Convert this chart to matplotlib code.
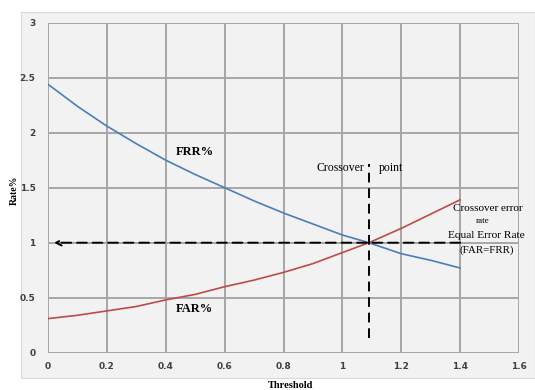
import matplotlib
matplotlib.use("Agg")
import matplotlib.pyplot as plt
from matplotlib.patches import Rectangle

threshold = [0.0, 0.1, 0.2, 0.3, 0.4, 0.5, 0.6, 0.7, 0.8, 0.9, 1.0, 1.09, 1.2, 1.3, 1.4]
frr = [2.44, 2.24, 2.06, 1.90, 1.75, 1.62, 1.50, 1.38, 1.27, 1.17, 1.07, 1.00, 0.90, 0.84, 0.77]
far = [0.31, 0.34, 0.38, 0.42, 0.48, 0.53, 0.60, 0.66, 0.73, 0.81, 0.91, 1.00, 1.13, 1.26, 1.39]
xticks = [0, 0.2, 0.4, 0.6, 0.8, 1, 1.2, 1.4, 1.6]
xticklabels = ["0", "0.2", "0.4", "0.6", "0.8", "1", "1.2", "1.4", "1.6"]
yticks = [0, 0.5, 1, 1.5, 2, 2.5, 3]
yticklabels = ["0", "0.5", "1", "1.5", "2", "2.5", "3"]
eer_x, eer_y = 1.09, 1.0

fig = plt.figure(figsize=(5.35, 3.9), dpi=100)
fig.patch.set_facecolor("white")
fig.patches.append(Rectangle((21/535, 12/390), 1 - 21/535, (378-12)/390, transform=fig.transFigure,
                             facecolor="#f2f2f2", edgecolor="#d9d9d9", lw=0.8, zorder=-5))
ax = fig.add_axes([48/535, (390-352.7)/390, (519-48)/535, (352.7-22.7)/390])
ax.set_zorder(1)
ax.set_facecolor("#f2f2f2")
ax.set_xlim(0, 1.6)
ax.set_ylim(0, 3)
ax.set_xticks(xticks)
ax.set_xticklabels(xticklabels)
ax.set_yticks(yticks)
ax.set_yticklabels(yticklabels)
ax.grid(True, color="#a6a6a6", lw=1.4)
ax.set_axisbelow(True)
for s in ax.spines.values():
    s.set_visible(False)
ax.tick_params(axis="x", length=0, labelsize=6.5, pad=7)
ax.tick_params(axis="y", length=0, labelsize=6.5, pad=9)
for lab in ax.get_xticklabels() + ax.get_yticklabels():
    lab.set_fontweight("bold")
    lab.set_color("#404040")

ax.plot(threshold, frr, color="#4a7ebb", lw=1.2, zorder=3)
ax.plot(threshold, far, color="#be4b48", lw=1.2, zorder=3)

# dashed lines
ax.annotate("", xy=(0.02, eer_y), xytext=(1.4, eer_y),
            arrowprops=dict(arrowstyle="->", color="black", lw=1.4, linestyle=(0, (5, 3)),
                            shrinkA=0, shrinkB=0), zorder=4)
ax.plot([eer_x, eer_x], [0.13, 1.72], color="black", lw=1.4, ls=(0, (5, 3)), zorder=4)

serif = "Liberation Serif"
ax.text(1.075, 1.68, "Crossover", family=serif, fontsize=8.5, ha="right", va="center")
ax.text(1.125, 1.68, "point", family=serif, fontsize=8.5, ha="left", va="center")
ax.text(1.495, 1.31, "Crossover error", family=serif, fontsize=8, ha="center", va="center")
ax.text(1.475, 1.195, "rate", family=serif, fontsize=6.5, ha="center", va="center")
ax.text(1.49, 1.065, "Equal Error Rate", family=serif, fontsize=8.2, ha="center", va="center")
ax.text(1.49, 0.935, "(FAR=FRR)", family=serif, fontsize=7.8, ha="center", va="center")
ax.text(0.498, 1.825, "FRR%", family=serif, fontsize=9, fontweight="bold", ha="center", va="center")
ax.text(0.498, 0.40, "FAR%", family=serif, fontsize=9, fontweight="bold", ha="center", va="center")

fig.text(14/535, 1 - 190/390, "Rate%", family=serif, fontsize=7, fontweight="bold",
         rotation=90, ha="center", va="center")
fig.text(291/535, 1 - 385/390, "Threshold", family=serif, fontsize=7.5, fontweight="bold",
         ha="center", va="center")

fig.savefig("out.png", dpi=100)
